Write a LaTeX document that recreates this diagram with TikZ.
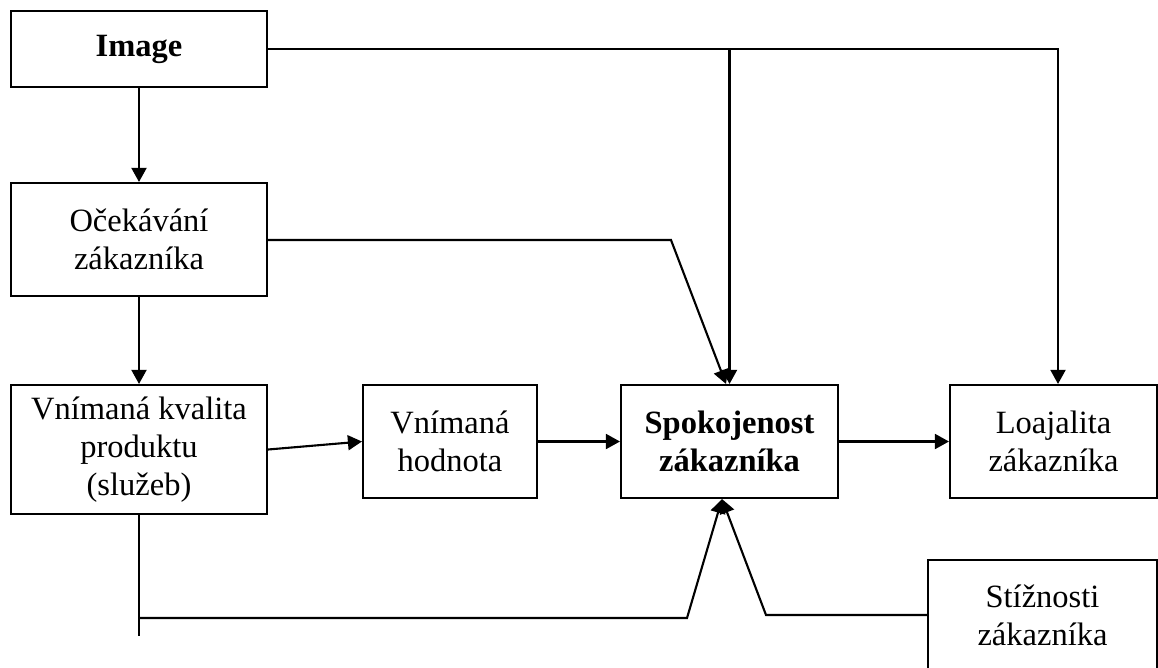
\documentclass[tikz,border=0pt]{standalone}
\usepackage{fontspec}
\setmainfont{Liberation Serif}
\usetikzlibrary{arrows.meta}
\tikzset{
  blok/.style={draw, line width=1.2pt, rectangle, align=center, inner sep=2pt,
    font=\fontsize{18.5}{21.6}\selectfont},
  sipka/.style={line width=1.2pt, -{Triangle[length=8pt,width=8.5pt]}},
  cara/.style={line width=1.2pt}
}

\begin{document}
\begin{tikzpicture}[x=0.02cm, y=-0.02cm]
			%%%%% START %%%%%
			\useasboundingbox (0,0) rectangle (1158,667);
			
			\node[blok, minimum width=5.12cm, minimum height=1.52cm] (image) at (139,49) {\textbf{Image}};
			\node[blok, minimum width=5.12cm, minimum height=2.26cm] (ocek) at (139,239.5) {Očekávání\\zákazníka};
			\node[blok, minimum width=5.12cm, minimum height=2.58cm] (kval) at (139,449.5) {Vnímaná kvalita\\produktu\\(služeb)};
			
			\node[blok, minimum width=3.48cm, minimum height=2.26cm] (hodn) at (450,441.5) {Vnímaná\\hodnota};
			\node[blok, minimum width=4.34cm, minimum height=2.26cm] (spok) at (729.5,441.5) {\textbf{Spokojenost}\\\textbf{zákazníka}};
			\node[blok, minimum width=4.14cm, minimum height=2.26cm] (loaj) at (1053.5,441.5) {Loajalita\\zákazníka};
			\node[blok, minimum width=4.58cm, minimum height=2.2cm] (stiz) at (1042.5,615) {Stížnosti\\zákazníka};
			
			% svisle vlevo
			\draw[sipka] (image) -- (ocek);
			\draw[sipka] (ocek) -- (kval);
			
			% horni vedeni
			\coordinate (odboc) at (spok.north |- image.east);
			\draw[sipka] (image.east) -| ([xshift=0.09cm]loaj.north);
			\draw[sipka] (odboc) -- (spok.north);
			
			\coordinate (zlom) at (671,240);
			\draw[sipka] (ocek.east |- zlom) -- (zlom) -- ([xshift=-0.07cm]spok.north);
			
			% prostredni rada
			\draw[sipka] (kval.east) -- (hodn.west);
			\draw[sipka] (hodn.east) -- (spok.west);
			\draw[sipka] (spok.east) -- (loaj.west);
			
			% spodni vedeni
			\coordinate (konec) at (139,636);
			\coordinate (roh1) at (139,618);
			\coordinate (roh2) at (687,618);
			\coordinate (roh3) at (766,615);
			\draw[cara] (kval.south) -- (konec);
			\draw[sipka] (roh1) -- (roh2) -- ([xshift=-0.15cm]spok.south);
			\draw[sipka] (stiz.west) -- (roh3) -- ([xshift=-0.15cm]spok.south);
			
			%%%%% END %%%%%
\end{tikzpicture}
\end{document}
